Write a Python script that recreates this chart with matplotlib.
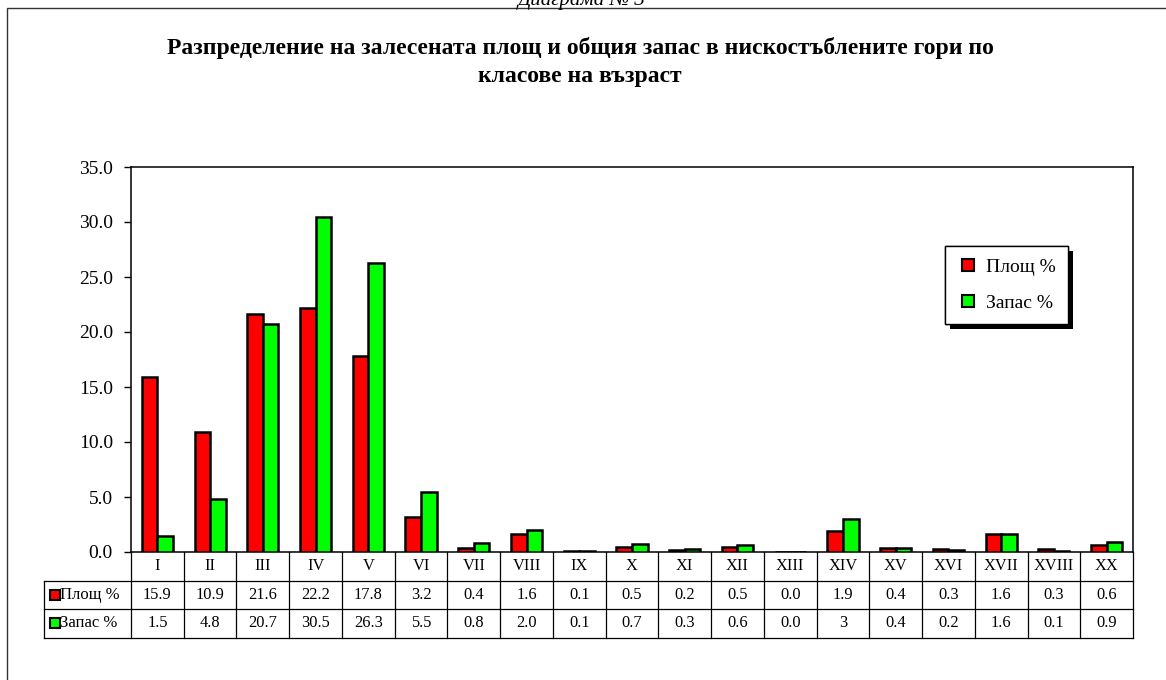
import matplotlib
matplotlib.use("Agg")
import matplotlib.pyplot as plt
import matplotlib.transforms as mtransforms
import matplotlib.patheffects as pe
from matplotlib.patches import Rectangle
from matplotlib.lines import Line2D
import numpy as np

plt.rcParams["font.family"] = ["Liberation Serif", "DejaVu Serif"]

classes = ["I", "II", "III", "IV", "V", "VI", "VII", "VIII", "IX", "X",
           "XI", "XII", "XIII", "XIV", "XV", "XVI", "XVII", "XVIII", "XX"]
plosht = [15.9, 10.9, 21.6, 22.2, 17.8, 3.2, 0.4, 1.6, 0.1, 0.5,
          0.2, 0.5, 0.0, 1.9, 0.4, 0.3, 1.6, 0.3, 0.6]
zapas = [1.5, 4.8, 20.7, 30.5, 26.3, 5.5, 0.8, 2.0, 0.1, 0.7,
         0.3, 0.6, 0.0, 3, 0.4, 0.2, 1.6, 0.1, 0.9]
series_names = ["Площ %", "Запас %"]
series_colors = ["#FF0000", "#00FF00"]
y_ticks = [0, 5, 10, 15, 20, 25, 30, 35]

title = "Разпределение на залесената площ и общия запас в нискостъблените гори по\nкласове на възраст"
caption = "Диаграма № 3"

W, H = 1166, 680
fig = plt.figure(figsize=(W / 100, H / 100), dpi=100)

# outer frame (cut off at right/bottom)
fig.add_artist(Rectangle((7 / W, -0.1), 1.2, 1.1 - 8 / H, transform=fig.transFigure,
                         fill=False, edgecolor="#333333", linewidth=1.0))
fig.text(582 / W, 1 - 5 / H, caption, ha="center", va="baseline",
         fontsize=15, style="italic")
fig.text(580 / W, 1 - 37 / H, title, ha="center", va="top",
         fontsize=17, fontweight="bold", linespacing=1.45)

left, right, top, bottom = 131, 1133, 167, 552
ax = fig.add_axes([left / W, 1 - bottom / H, (right - left) / W, (bottom - top) / H])

n = len(classes)
x = np.arange(n)
bw = 0.295
for k, (vals, name, col) in enumerate(zip([plosht, zapas], series_names, series_colors)):
    off = (k - 0.5) * bw
    ax.bar(x + off, vals, bw, color=col, edgecolor="black", linewidth=1.8,
           label=name, zorder=3)

ax.set_xlim(-0.5, n - 0.5)
ax.set_ylim(0, 35)
ax.set_yticks(y_ticks)
ax.set_yticklabels([f"{v:.1f}" for v in y_ticks])
ax.tick_params(axis="y", direction="out", length=5, width=1, labelsize=14, pad=8)
ax.set_xticks([])
for s in ax.spines.values():
    s.set_linewidth(1.1)

handles = [Line2D([], [], ls="none", marker="s", ms=8, mfc=c, mec="black", mew=1.5)
           for c in series_colors]
leg = ax.legend(handles, series_names, loc="upper left", bbox_to_anchor=(0.812, 0.795),
                borderaxespad=0, fancybox=False, edgecolor="black", framealpha=1,
                fontsize=14, handlelength=1.2, handletextpad=0.3,
                labelspacing=0.95, borderpad=0.62)
leg.get_frame().set_linewidth(1.0)
leg.get_frame().set_path_effects([
    pe.withSimplePatchShadow(offset=(4, -4), shadow_rgbFace="black", alpha=1.0),
    pe.Normal()])

# data table under the axis
row_h = 28.5 / (bottom - top)
hdr_x = (44 - left) / (right - left)
blend = mtransforms.blended_transform_factory(ax.transData, ax.transAxes)
lk = dict(color="black", linewidth=0.9, clip_on=False)

for i in range(n + 1):
    xf = i / n
    ax.plot([xf, xf], [0, -3 * row_h], transform=ax.transAxes, **lk)
for r in (1, 2, 3):
    ax.plot([hdr_x, 1], [-r * row_h, -r * row_h], transform=ax.transAxes, **lk)
ax.plot([hdr_x, hdr_x], [-row_h, -3 * row_h], transform=ax.transAxes, **lk)

for i, c in enumerate(classes):
    ax.text(i, -0.5 * row_h, c, transform=blend, ha="center", va="center", fontsize=11.8)
for r, (vals, name, col) in enumerate(zip([plosht, zapas], series_names, series_colors)):
    yc = -(r + 1.5) * row_h
    for i, v in enumerate(vals):
        ax.text(i, yc, str(v), transform=blend, ha="center", va="center", fontsize=11.8)
    mx = (55 - left) / (right - left)
    ax.plot([mx], [yc], marker="s", ms=7.5, mfc=col, mec="black", mew=1.5,
            transform=ax.transAxes, clip_on=False)
    ax.text((60 - left) / (right - left), yc, name, transform=ax.transAxes,
            ha="left", va="center", fontsize=12)

fig.savefig("out.png", dpi=100)
